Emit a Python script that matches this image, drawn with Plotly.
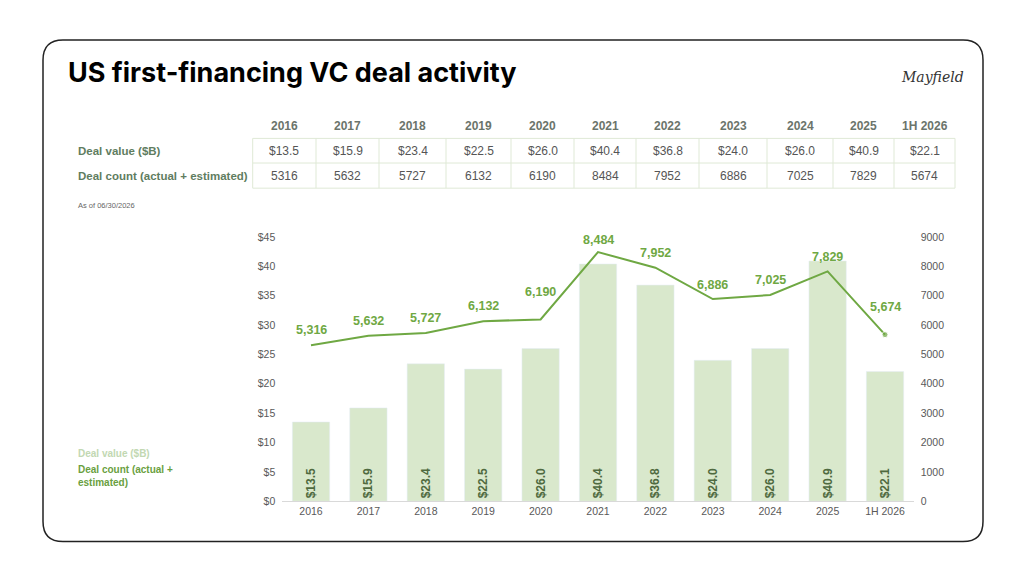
import plotly.graph_objects as go

# ---- data ----
categories = ["2016", "2017", "2018", "2019", "2020", "2021", "2022", "2023", "2024", "2025", "1H 2026"]
deal_value = [13.5, 15.9, 23.4, 22.5, 26.0, 40.4, 36.8, 24.0, 26.0, 40.9, 22.1]
deal_count = [5316, 5632, 5727, 6132, 6190, 8484, 7952, 6886, 7025, 7829, 5674]
left_ticks = [0, 5, 10, 15, 20, 25, 30, 35, 40, 45]
right_ticks = [0, 1000, 2000, 3000, 4000, 5000, 6000, 7000, 8000, 9000]

W, H = 1024, 576
# the page is photographed with a slight vertical squeeze; map target pixels back
V_SCALE, V_OFF = 0.974, 7.3
def px(x): return x / W
def py(y): return 1 - ((y - V_OFF) / V_SCALE) / H

BAR_C = "#d9e8cc"
LINE_C = "#6fa843"
TXT_GRAY = "#595959"
FONT = "Liberation Sans"

fig = go.Figure()
fig.add_trace(go.Bar(
    x=categories, y=deal_value, marker_color=BAR_C, width=0.65,
    texttemplate="$%{y:.1f}", textposition="inside", insidetextanchor="start",
    textangle=-90, textfont=dict(family=FONT, size=12, color="#4f6a3f", weight="bold"),
    cliponaxis=False, showlegend=False, yaxis="y"))
marker_sizes = [0] * (len(deal_count) - 1) + [6]
fig.add_trace(go.Scatter(
    x=categories, y=deal_count, mode="lines+markers", yaxis="y2",
    line=dict(color=LINE_C, width=2), marker=dict(size=marker_sizes, color=LINE_C),
    showlegend=False, cliponaxis=False))

annotations = []
shapes = []
def note(x, y, text, size, color, family=FONT, xanchor="center", align="center"):
    annotations.append(dict(x=px(x), y=py(y), xref="paper", yref="paper", xanchor=xanchor,
                            yanchor="middle", align=align, text=text, showarrow=False,
                            font=dict(family=family, size=size, color=color)))

# line labels (x given as category index)
label_shift = [15, 15, 15, 15, 27, 12, 15, 14, 15, 14, 28]
for i, (v, s) in enumerate(zip(deal_count, label_shift)):
    annotations.append(dict(x=i, y=v, xref="x", yref="y2", text=f"<b>{v:,}</b>", yanchor="middle",
                            showarrow=False, yshift=s, font=dict(family=FONT, size=12.5, color=LINE_C)))

# card
x0, y0, x1, y1, r = 43, 41, 983, 540, 20
path = (f"M {px(x0+r)} {py(y0)} L {px(x1-r)} {py(y0)} Q {px(x1)} {py(y0)} {px(x1)} {py(y0+r)} "
        f"L {px(x1)} {py(y1-r)} Q {px(x1)} {py(y1)} {px(x1-r)} {py(y1)} "
        f"L {px(x0+r)} {py(y1)} Q {px(x0)} {py(y1)} {px(x0)} {py(y1-r)} "
        f"L {px(x0)} {py(y0+r)} Q {px(x0)} {py(y0)} {px(x0+r)} {py(y0)} Z")
shapes.append(dict(type="path", path=path, xref="paper", yref="paper",
                   line=dict(color="#222222", width=1.5), layer="below"))

# title and logo
note(66, 73, "<b>US first-financing VC deal activity</b>", 27, "#000000", family="Inter", xanchor="left")
note(932, 78, "<i>Mayfield</i>", 14, "#333333", family="DejaVu Serif")

# table
col_edges = [252.7, 316, 379, 446, 511, 574, 636, 699, 767, 833, 894, 955]
row_edges = [139, 163.5, 188.5]
GRID = "#dfe9d6"
for ye in row_edges:
    shapes.append(dict(type="line", xref="paper", yref="paper", x0=px(col_edges[0]), x1=px(col_edges[-1]),
                       y0=py(ye), y1=py(ye), line=dict(color=GRID, width=1)))
for xe in col_edges:
    shapes.append(dict(type="line", xref="paper", yref="paper", x0=px(xe), x1=px(xe),
                       y0=py(row_edges[0]), y1=py(row_edges[-1]), line=dict(color=GRID, width=1)))
centers = [(a + b) / 2 for a, b in zip(col_edges[:-1], col_edges[1:])]
for i, c in enumerate(categories):
    note(centers[i], 127, f"<b>{c}</b>", 12, "#6b746b")
    note(centers[i], 151.5, f"${deal_value[i]:.1f}", 12, "#555555")
    note(centers[i], 176.5, f"{deal_count[i]}", 12, "#555555")
note(76, 151.5, "<b>Deal value ($B)</b>", 11.5, "#5f7d5f", xanchor="left")
note(76, 176.5, "<b>Deal count (actual + estimated)</b>", 11.5, "#5f7d5f", xanchor="left")
note(76, 206, "As of 06/30/2026", 7.5, "#666666", xanchor="left")

# left legend
note(76, 452, "<b>Deal value ($B)</b>", 10, "#c2d8b2", xanchor="left")
note(76, 474.5, "<b>Deal count (actual +<br>estimated)</b>", 10, "#6a9f3f", xanchor="left", align="left")

fig.update_layout(
    width=W, height=H, margin=dict(l=0, r=0, t=0, b=0),
    paper_bgcolor="white", plot_bgcolor="white",
    bargap=0.35,
    xaxis=dict(domain=[px(282.3), px(913.7)], type="category", range=[-0.5, len(categories) - 0.5],
               showgrid=False, showline=True, autorange=False,
               linecolor="#d9d9d9", linewidth=1, ticks="", tickfont=dict(family=FONT, size=10.5, color=TXT_GRAY)),
    yaxis=dict(domain=[py(500), py(237)], range=[0, 45], autorange=False, tickvals=left_ticks,
               ticktext=[f"${t}" for t in left_ticks], showgrid=False, zeroline=False,
               tickfont=dict(family=FONT, size=10.5, color=TXT_GRAY), ticklabelstandoff=6),
    yaxis2=dict(domain=[py(500), py(237)], range=[0, 9000], autorange=False, tickvals=right_ticks,
                overlaying="y", side="right", anchor="x", showgrid=False, zeroline=False,
                tickfont=dict(family=FONT, size=10.5, color=TXT_GRAY), ticklabelstandoff=6),
    annotations=annotations, shapes=shapes,
)
fig.write_html("out.html")
